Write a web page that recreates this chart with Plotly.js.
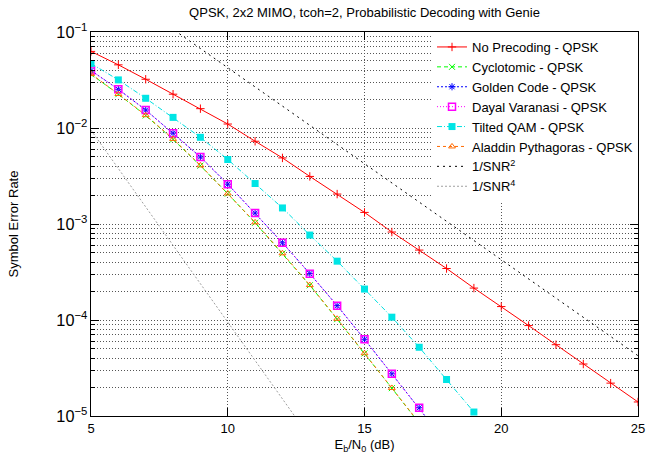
<!DOCTYPE html>
<html>
<head>
<meta charset="utf-8">
<script src="https://cdn.plot.ly/plotly-3.0.1.min.js"></script>
<style>html,body{margin:0;padding:0;background:#fff;}#chart{width:647px;height:459px;}</style>
</head>
<body>
<div id="chart"></div>
<script>
// Eb/N0 (dB)
const snrRed   = [5,6,7,8,9,10,11,12,13,14,15,16,17,18,19,20,21,22,23,24,25];
const noPrecoding = [0.0628,0.0455,0.0322,0.0225,0.0159,0.0110,0.00728,0.00488,0.00313,0.00205,0.00132,8.25e-4,5.35e-4,3.44e-4,2.15e-4,1.38e-4,8.75e-5,5.53e-5,3.48e-5,2.2e-5,1.4e-5];

const snrCyc   = [5,6,7,8,9,10,11,12,13,14,15,16,17];
const cyclotomic = [0.0363,0.0225,0.0135,0.0076,0.00405,0.00207,0.00103,4.93e-4,2.3e-4,1.02e-4,4.49e-5,1.95e-5,8.4e-6];
const aladdin    = [0.0365,0.0226,0.0136,0.0077,0.00408,0.00208,0.00104,4.95e-4,2.31e-4,1.03e-4,4.5e-5,1.96e-5,8.5e-6];

const snrGold  = [5,6,7,8,9,10,11,12,13,14,15,16,17,18];
const golden   = [0.0397,0.0253,0.0154,0.00883,0.00499,0.0026,0.0013,6.37e-4,3.04e-4,1.41e-4,6.3e-5,2.75e-5,1.22e-5,5.2e-6];
const dayal    = [0.0397,0.0253,0.0154,0.00883,0.00499,0.0026,0.0013,6.37e-4,3.04e-4,1.41e-4,6.3e-5,2.75e-5,1.22e-5,5.2e-6];

const snrTilt  = [5,6,7,8,9,10,11,12,13,14,15,16,17,18,19];
const tiltedQAM = [0.047,0.0317,0.0204,0.0129,0.0080,0.0047,0.00264,0.00147,7.67e-4,4.1e-4,2.1e-4,1.07e-4,5.2e-5,2.4e-5,1.1e-5];

const snrRef2  = [5,10,15,20,25];
const invSNR2  = [0.4246,0.04246,4.246e-3,4.246e-4,4.246e-5];
const snrRef4  = [5,7,9,11,13];
const invSNR4  = [9.5e-3,1.5e-3,2.4e-4,3.8e-5,6.0e-6];

const xTicks = [5,10,15,20,25];
const names = ["No Precoding - QPSK","Cyclotomic - QPSK","Golden Code - QPSK","Dayal Varanasi - QPSK","Tilted QAM - QPSK","Aladdin Pythagoras - QPSK","1/SNR<sup>2</sup>","1/SNR<sup>4</sup>"];

const traces = [
  {x:snrRed, y:noPrecoding, name:names[0], mode:'lines+markers',
   line:{color:'#ff0000', width:1}, marker:{symbol:'cross-thin-open', size:6, color:'#ff0000', line:{color:'#ff0000', width:1}}},
  {x:snrCyc, y:cyclotomic, name:names[1], mode:'lines+markers',
   line:{color:'#00ff00', width:1, dash:'4px,3px'}, marker:{symbol:'x-thin-open', size:6, color:'#00ff00', line:{color:'#00ff00', width:1}}},
  {x:snrGold, y:golden, name:names[2], mode:'lines+markers',
   line:{color:'#0000ff', width:1, dash:'2px,2px'}, marker:{symbol:'asterisk-open', size:6, color:'#0000ff', line:{color:'#0000ff', width:1}}},
  {x:snrGold, y:dayal, name:names[3], mode:'lines+markers',
   line:{color:'#ff00ff', width:1, dash:'1px,2px'}, marker:{symbol:'square-open', size:7, color:'#ff00ff', line:{color:'#ff00ff', width:1.5}}},
  {x:snrTilt, y:tiltedQAM, name:names[4], mode:'lines+markers',
   line:{color:'#00e0e0', width:1, dash:'5px,2px,1px,2px'}, marker:{symbol:'square', size:7, color:'#00e5e5'}},
  {x:snrCyc, y:aladdin, name:names[5], mode:'lines+markers',
   line:{color:'#ff6a00', width:1, dash:'3px,3px'}, marker:{symbol:'triangle-up-open', size:6, color:'#ff6a00', line:{color:'#ff6a00', width:1}}},
  {x:snrRef2, y:invSNR2, name:names[6], mode:'lines',
   line:{color:'#000000', width:1, dash:'2px,4px'}},
  {x:snrRef4, y:invSNR4, name:names[7], mode:'lines',
   line:{color:'#a0a0a0', width:1, dash:'2px,2px'}}
];

const gridDash = '1px,2px';
const layout = {
  width:647, height:459,
  margin:{l:91, r:9, t:32, b:43},
  paper_bgcolor:'#ffffff', plot_bgcolor:'#ffffff',
  font:{family:'"Liberation Sans", Arial, sans-serif', size:13, color:'#000'},
  title:{text:'QPSK, 2x2 MIMO, tcoh=2, Probabilistic Decoding with Genie', x:0.5, xref:'paper', y:0.972, yref:'container', yanchor:'middle', font:{size:13}},
  showlegend:true,
  legend:{x:1, xanchor:'right', y:1, yanchor:'top', bgcolor:'#ffffff', borderwidth:0, font:{size:13}, tracegroupgap:0},
  xaxis:{
    range:[5,25], tickvals:xTicks, ticktext:xTicks.map(String),
    showline:true, linecolor:'#000', linewidth:1, mirror:'allticks',
    ticks:'inside', ticklen:8, tickcolor:'#000',
    showgrid:true, gridcolor:'#555', griddash:gridDash, gridwidth:1,
    zeroline:false, tickfont:{size:13},
    title:{text:'E<sub>b</sub>/N<sub>0</sub> (dB)', standoff:5, font:{size:13}}
  },
  yaxis:{
    type:'log', range:[-5,-1], dtick:1, exponentformat:'power', showexponent:'all',
    showline:true, linecolor:'#000', linewidth:1, mirror:'allticks',
    ticks:'inside', ticklen:8, tickcolor:'#000',
    showgrid:true, gridcolor:'#555', griddash:gridDash, gridwidth:1,
    minor:{dtick:'D1', ticks:'inside', ticklen:4, tickcolor:'#000', showgrid:true, gridcolor:'#555', griddash:gridDash, gridwidth:1},
    zeroline:false, tickfont:{size:13},
    title:{text:'Symbol Error Rate', standoff:34, font:{size:13}}
  }
};

Plotly.newPlot('chart', traces, layout, {displayModeBar:false, staticPlot:true});
</script>
</body>
</html>
